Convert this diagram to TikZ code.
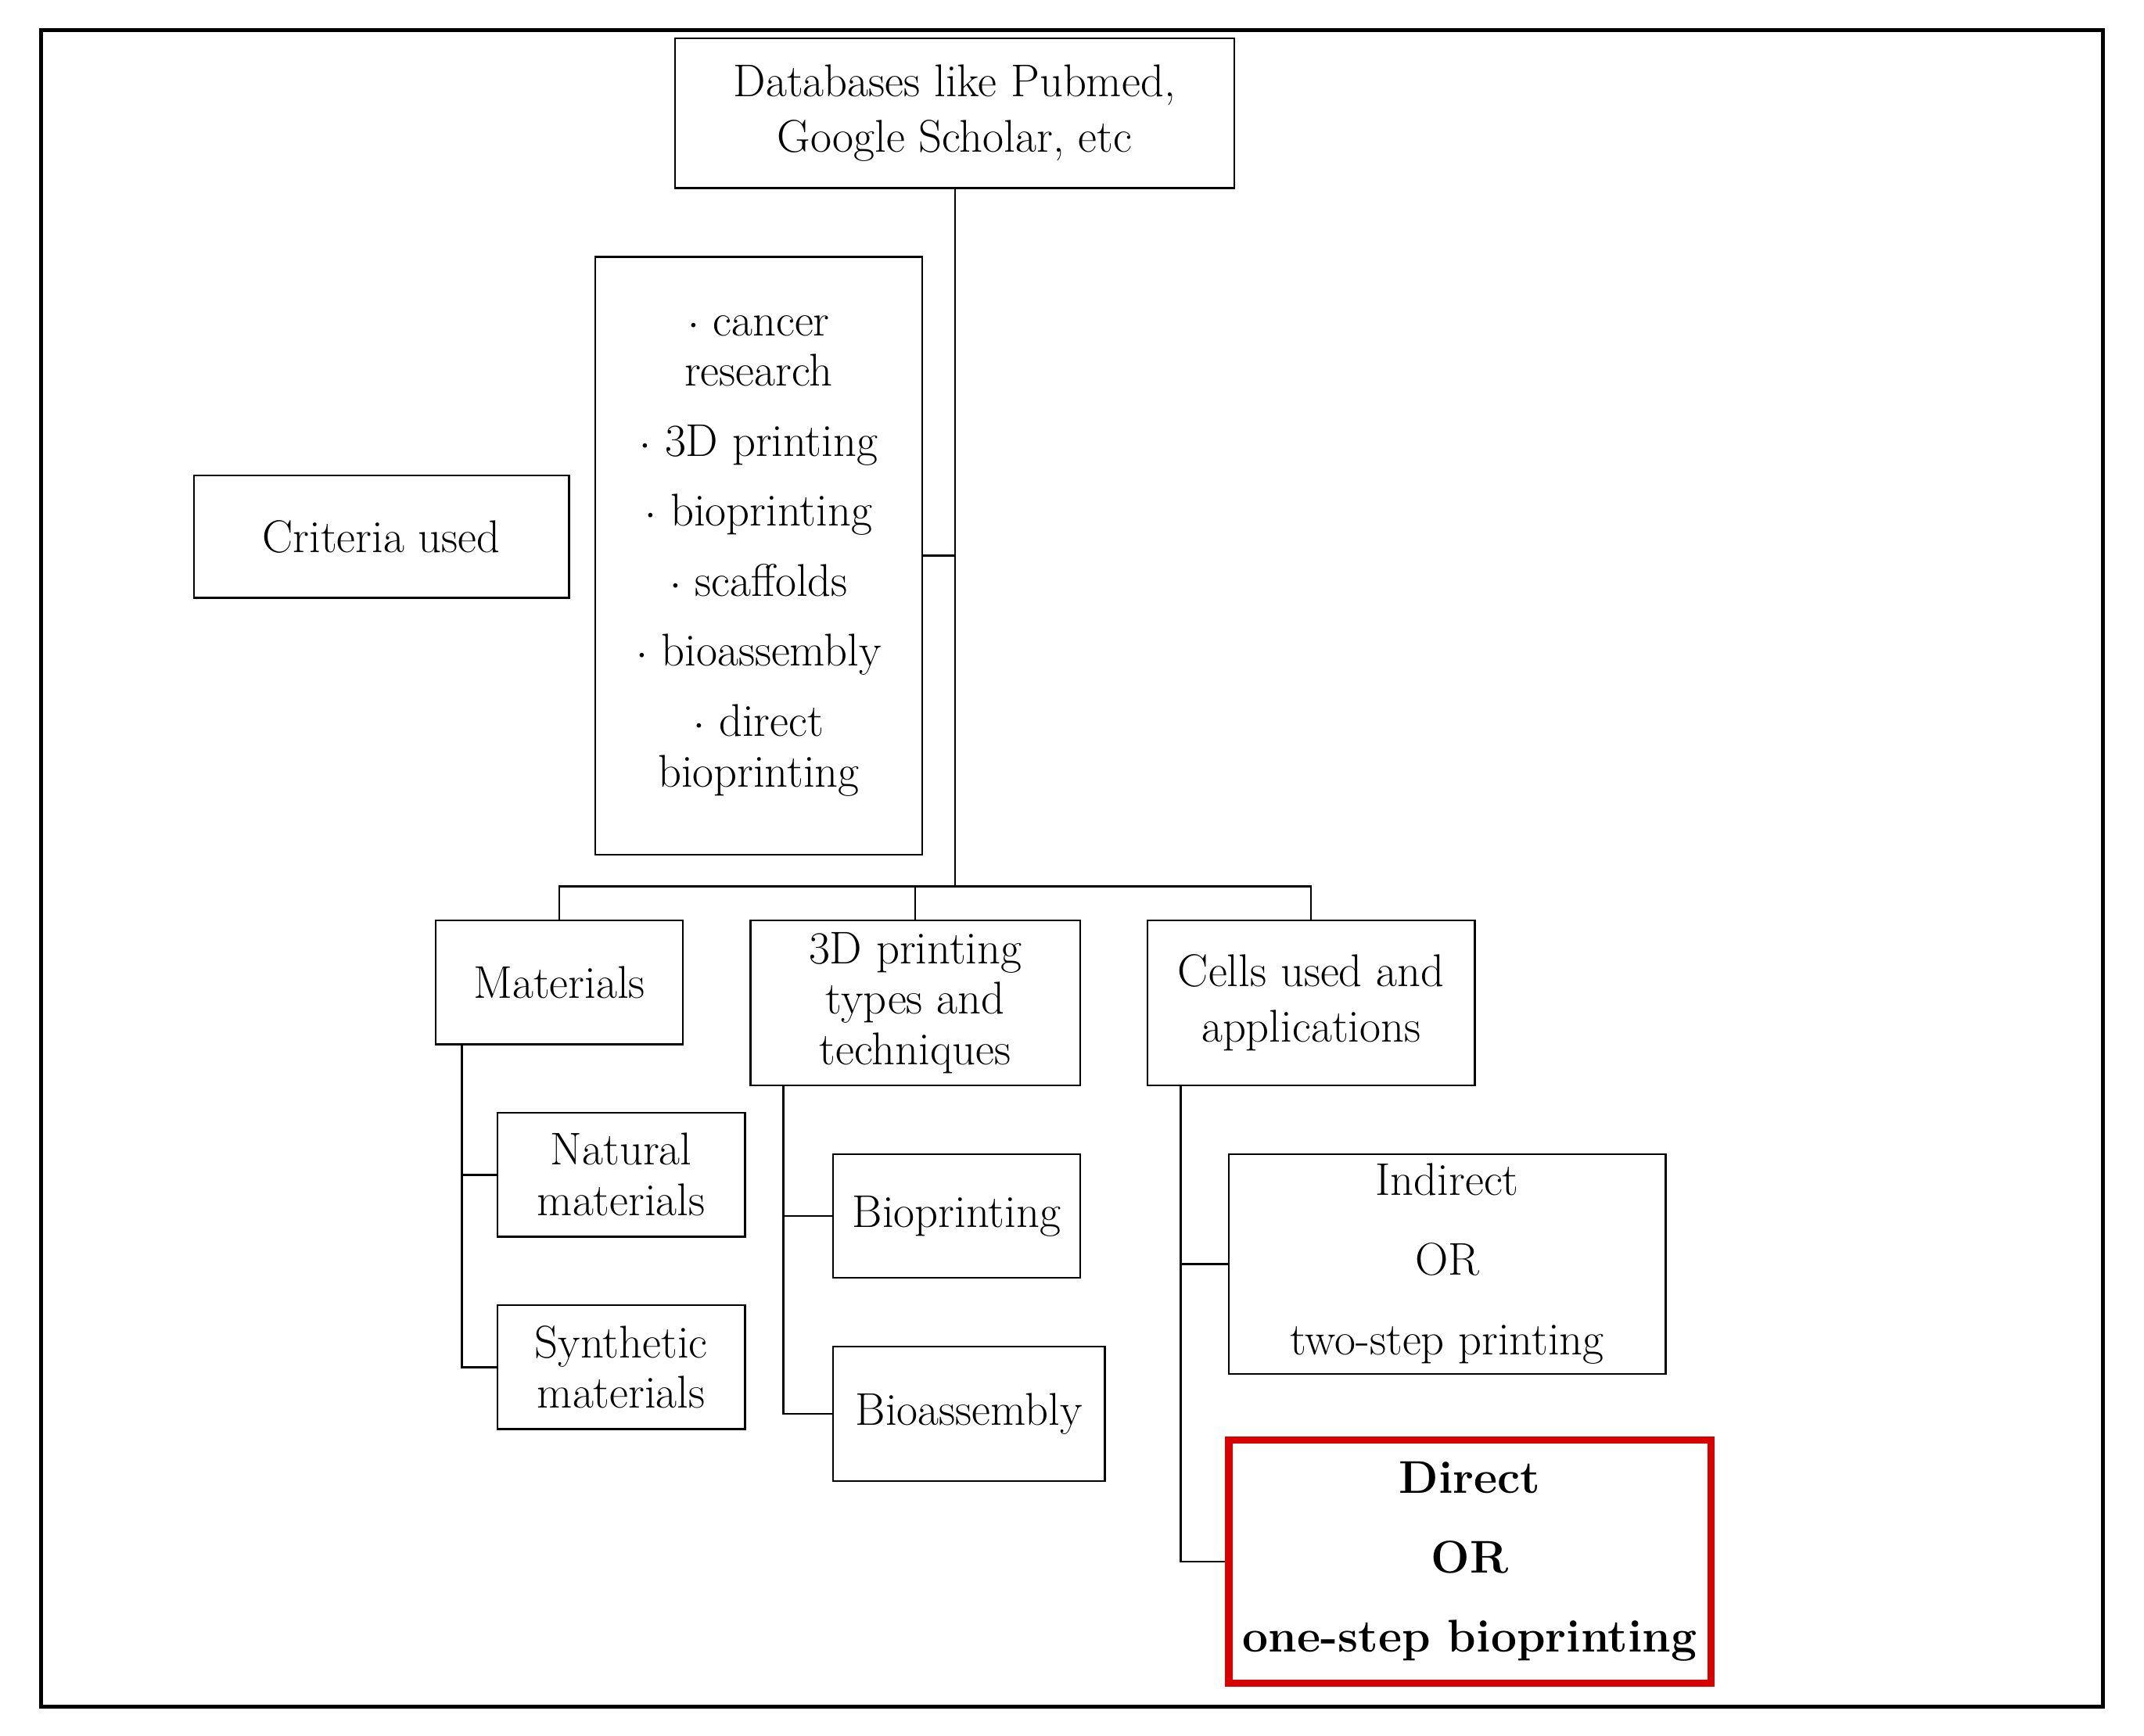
\documentclass[tikz,border=0pt]{standalone}
\usepackage{tikz}
\usetikzlibrary{calc}
\tikzset{
  box/.style={draw, thick, align=center, inner sep=2pt, font=\fontsize{19}{23}\selectfont},
  link/.style={thick}
}
\begin{document}
\begin{tikzpicture}[x=0.02cm,y=-0.02cm]
            \useasboundingbox (0,0) rectangle (1560,1263);
            % frame
            \draw [line width=1.6pt] (30,22) rectangle (1530,1242);
            % top level
            \node [box, minimum width=8.14cm, minimum height=2.18cm] (db) at (694.5,82.5) {Databases like Pubmed,\\Google Scholar, etc};
            \node [box, minimum width=5.46cm, minimum height=1.78cm] (crit) at (277.5,390.5) {Criteria used};
            \node [box, minimum width=4.76cm, minimum height=8.7cm, font=\fontsize{19}{21}\selectfont] (terms) at (552,404.5)
                  {$\cdot$ cancer\\research\\[8pt]$\cdot$ 3D printing\\[8pt]$\cdot$ bioprinting\\[8pt]$\cdot$ scaffolds\\[8pt]$\cdot$ bioassembly\\[8pt]$\cdot$ direct\\bioprinting};
            % categories
            \node [box, minimum width=3.6cm, minimum height=1.8cm] (mat) at (407,715) {Materials};
            \node [box, minimum width=4.8cm, minimum height=2.4cm, font=\fontsize{19}{21}\selectfont] (tech) at (666,730) {3D printing\\types and\\techniques};
            \node [box, minimum width=4.76cm, minimum height=2.4cm] (cell) at (954,730) {Cells used and\\applications};
            % sub boxes
            \node [box, minimum width=3.6cm, minimum height=1.8cm, font=\fontsize{19}{21}\selectfont] (nat) at (452,855) {Natural\\materials};
            \node [box, minimum width=3.6cm, minimum height=1.8cm, font=\fontsize{19}{21}\selectfont] (syn) at (452,995) {Synthetic\\materials};
            \node [box, minimum width=3.6cm, minimum height=1.8cm, inner sep=0pt] (bprint) at (696,885) {Bioprinting};
            \node [box, minimum width=3.96cm, minimum height=1.96cm, inner sep=0pt] (bassem) at (705,1029) {Bioassembly};
            \node [box, minimum width=6.36cm, minimum height=3.2cm] (indir) at (1053,920) {Indirect\\[10pt]OR\\[10pt]two-step printing};
            \node [box, draw=red!85!black, line width=3pt, minimum width=7.02cm, minimum height=3.54cm, font=\fontsize{19}{23}\selectfont\bfseries, inner sep=0pt] (dir) at (1069.5,1136.5) {Direct\\[10pt]OR\\[10pt]one-step bioprinting};
            % connectors
            \coordinate (hub) at (695,645);
            \draw [link] (db.south -| hub) -- (hub);
            \draw [link] (terms.east) -- (terms.east -| hub);
            \draw [link] (mat.north) |- (hub) -| (cell.north);
            \draw [link] (tech.north) -- (tech.north |- hub);
            \coordinate (mtrunk) at (336,760);
            \coordinate (ttrunk) at (570,790);
            \coordinate (ctrunk) at (859,790);
            \draw [link] (mtrunk) |- (nat.west);
            \draw [link] (mtrunk) |- (syn.west);
            \draw [link] (ttrunk) |- (bprint.west);
            \draw [link] (ttrunk) |- (bassem.west);
            \draw [link] (ctrunk) |- (indir.west);
            \draw [link] (ctrunk) |- (dir.west);
\end{tikzpicture}
\end{document}
